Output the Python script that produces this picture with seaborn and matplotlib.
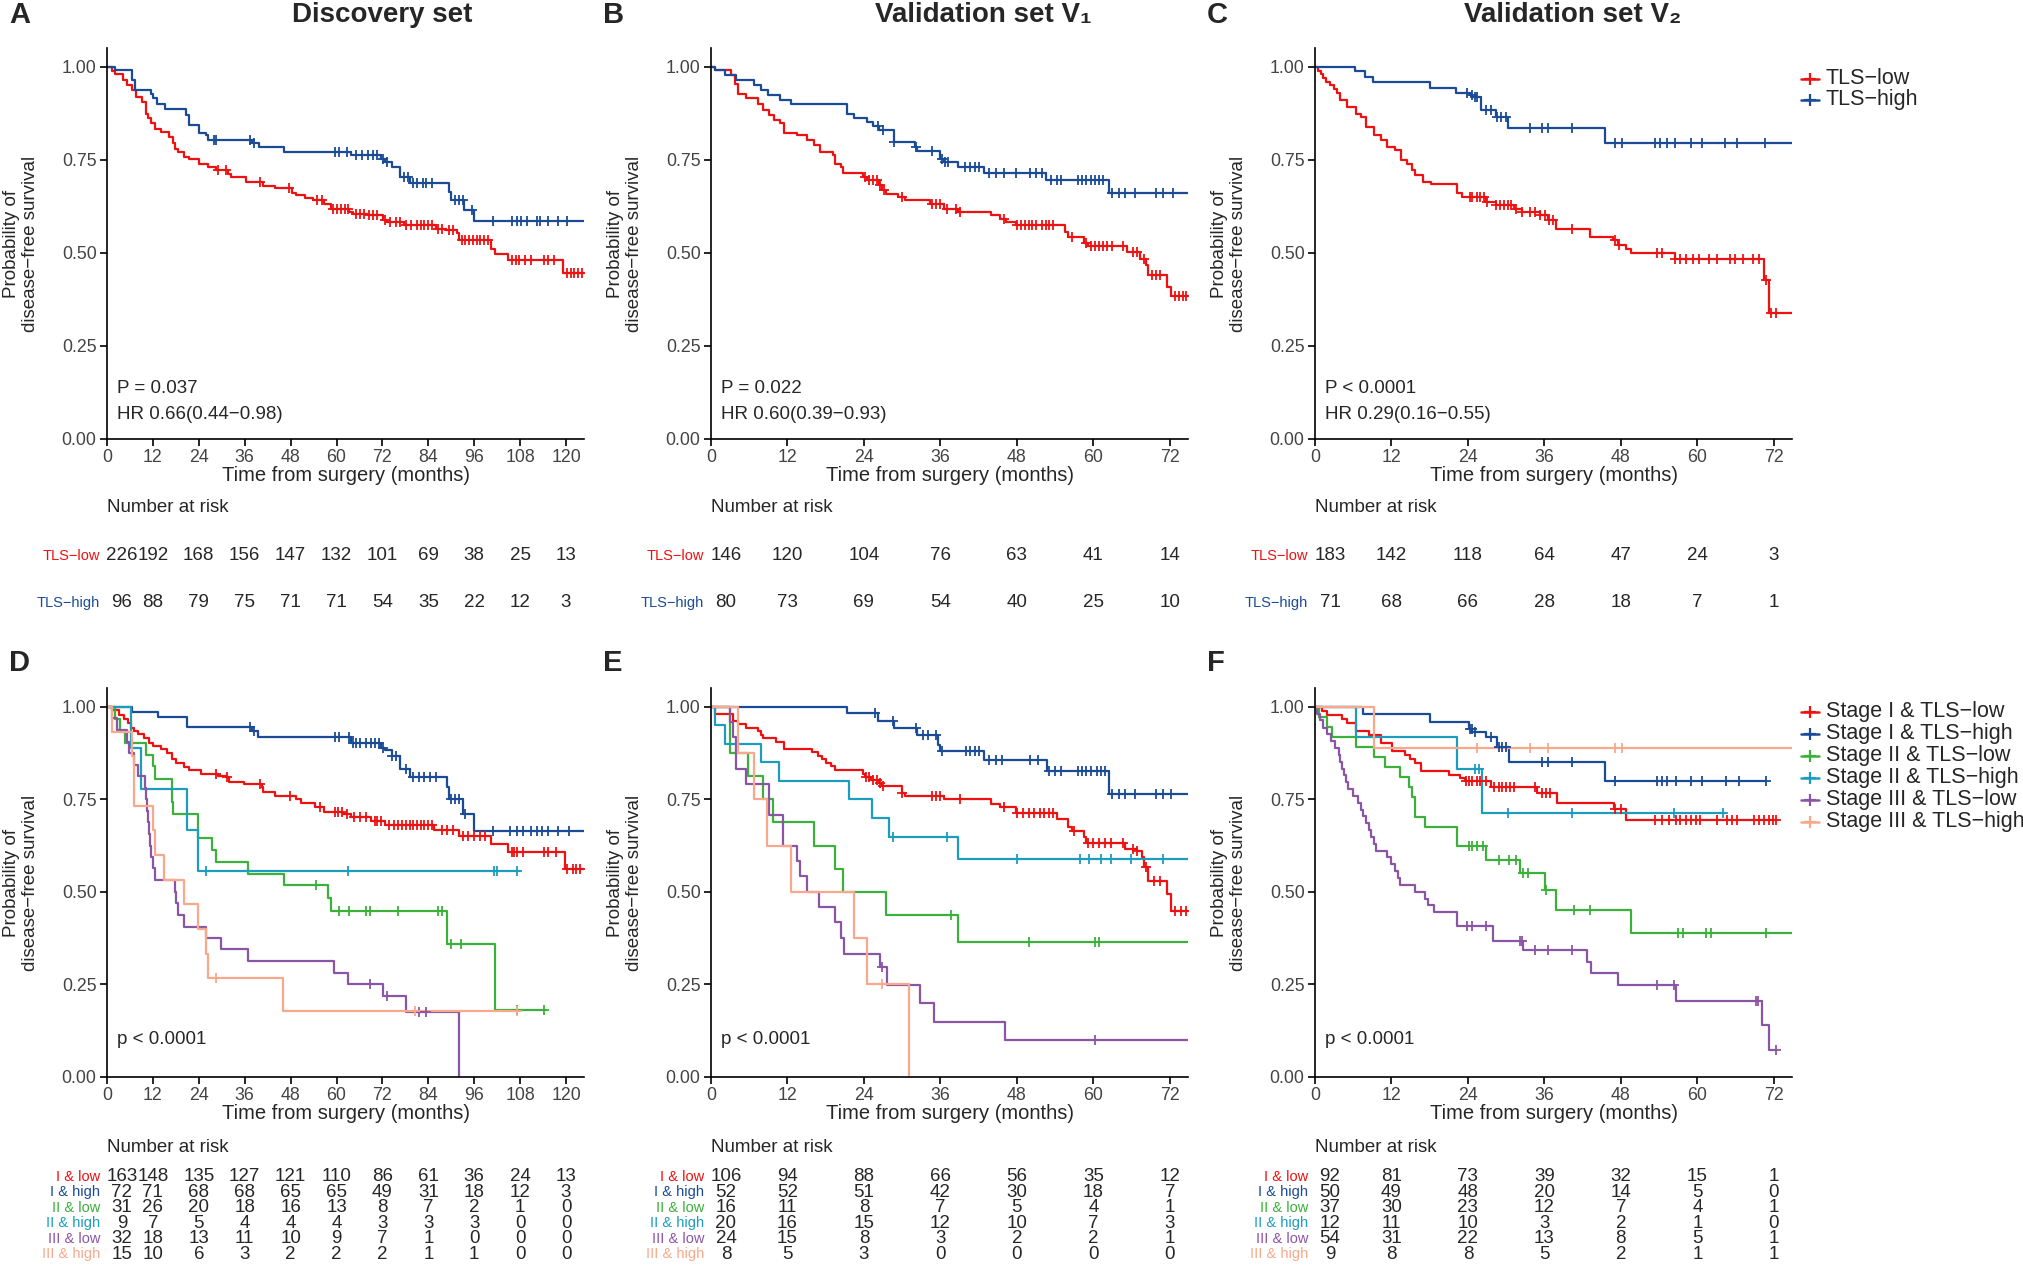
import numpy as np
import matplotlib
matplotlib.use('Agg')
import matplotlib.pyplot as plt
import seaborn as sns
from matplotlib import transforms
from matplotlib.lines import Line2D

# ---- colours
red = '#EE1111'
blue = '#1B4B96'
green = '#3BB13B'
cyan = '#1C9DBE'
purple = '#8B55A6'
salmon = '#F9A98B'

# ---- A: discovery set (time in months, survival)
a_low_steps = [(0, 1.0), (1.2, 0.99), (2.2, 0.98), (4.2, 0.965), (5.2, 0.95), (6.6, 0.937), (7.6, 0.919),
               (9.1, 0.906), (10.1, 0.874), (10.6, 0.862), (11.6, 0.848), (12.6, 0.834), (14.1, 0.825),
               (16.1, 0.812), (17.3, 0.794), (17.9, 0.78), (18.6, 0.771), (20.0, 0.758), (21.5, 0.751),
               (24.0, 0.74), (26.5, 0.731), (28.5, 0.722), (31.7, 0.713), (32.4, 0.704), (36.4, 0.69),
               (40.9, 0.679), (43.8, 0.673), (48.3, 0.662), (49.3, 0.655), (51.8, 0.648), (53.8, 0.641),
               (56.7, 0.632), (58.5, 0.619), (63.2, 0.61), (64.2, 0.605), (68.2, 0.601), (72.1, 0.587),
               (73.1, 0.583), (77.6, 0.574), (86.0, 0.565), (88.5, 0.561), (91.5, 0.552), (92.0, 0.534),
               (100.4, 0.511), (101.4, 0.498), (104.9, 0.48), (119.2, 0.446), (124.7, 0.446)]
a_low_cens = [29.0, 31.0, 39.9, 47.5, 54.8, 56.3, 59.2, 60.2, 61.2, 62.2, 62.9, 65.2, 66.2, 67.2, 68.5, 69.6,
              70.6, 72.6, 74.1, 75.6, 76.6, 78.1, 79.6, 81.1, 82.0, 83.0, 84.0, 85.0, 86.5, 87.5, 89.5, 90.5,
              92.7, 93.7, 94.6, 95.6, 96.6, 97.6, 98.6, 99.6, 105.8, 106.8, 107.8, 109.3, 110.8, 114.3, 115.3,
              116.8, 120.2, 121.2, 122.2, 123.2, 124.2]
a_high_steps = [(0, 1.0), (2.2, 0.991), (6.6, 0.964), (7.3, 0.937), (11.6, 0.926), (12.1, 0.915), (13.1, 0.901),
                (15.1, 0.888), (20.7, 0.87), (21.5, 0.843), (24.0, 0.822), (26.0, 0.816), (26.5, 0.803),
                (37.9, 0.794), (39.7, 0.785), (46.3, 0.771), (63.9, 0.762), (71.6, 0.753), (72.6, 0.744),
                (74.6, 0.731), (76.6, 0.704), (79.1, 0.688), (89.5, 0.664), (90.0, 0.643), (93.3, 0.614),
                (95.9, 0.586), (124.7, 0.586)]
a_high_cens = [28.0, 28.5, 37.4, 38.4, 59.7, 60.7, 62.7, 65.2, 66.7, 68.2, 69.6, 70.6, 72.1, 73.1, 77.6, 78.6,
               80.1, 81.1, 82.5, 83.5, 85.0, 91.0, 92.0, 93.0, 95.4, 100.9, 105.8, 107.3, 108.3, 109.8, 112.3,
               113.3, 115.3, 117.8, 120.2]

# ---- B: validation set V1
b_low_steps = [(0, 1.0), (0.7, 0.991), (3.1, 0.978), (3.7, 0.955), (4.3, 0.928), (5.5, 0.915), (7.3, 0.901),
               (8.2, 0.883), (9.1, 0.87), (9.9, 0.858), (10.8, 0.849), (11.4, 0.822), (13.5, 0.816),
               (15.0, 0.803), (16.2, 0.789), (17.1, 0.771), (19.2, 0.762), (19.5, 0.74), (20.4, 0.731),
               (20.7, 0.715), (23.9, 0.704), (24.5, 0.695), (26.3, 0.682), (26.9, 0.668), (27.5, 0.657),
               (29.3, 0.65), (30.5, 0.641), (34.4, 0.632), (36.5, 0.619), (38.8, 0.61), (43.9, 0.601),
               (45.4, 0.592), (46.3, 0.583), (47.8, 0.574), (55.5, 0.556), (56.1, 0.543), (58.5, 0.525),
               (59.1, 0.517), (65.3, 0.502), (67.4, 0.484), (68.3, 0.466), (68.6, 0.439), (71.6, 0.408),
               (72.2, 0.383), (74.9, 0.383)]
b_low_cens = [24.2, 24.8, 25.4, 26.0, 26.6, 27.2, 29.9, 34.7, 35.3, 35.9, 37.0, 38.5, 39.1, 46.0, 48.1, 48.7,
              49.3, 49.9, 50.4, 51.0, 51.9, 52.5, 53.1, 53.7, 56.7, 58.8, 59.7, 60.3, 60.9, 61.5, 62.1, 63.0,
              64.7, 66.2, 66.8, 68.0, 69.2, 69.8, 70.4, 72.8, 73.4, 74.0, 74.6]
b_high_steps = [(0, 1.0), (0.7, 0.991), (2.2, 0.978), (4.0, 0.964), (6.7, 0.951), (7.9, 0.937), (8.9, 0.924),
                (10.8, 0.912), (12.6, 0.901), (21.3, 0.874), (22.5, 0.863), (24.5, 0.851), (25.4, 0.84),
                (26.3, 0.83), (28.7, 0.798), (32.0, 0.785), (32.3, 0.773), (35.9, 0.751), (36.5, 0.744),
                (38.8, 0.731), (42.9, 0.715), (52.6, 0.695), (62.5, 0.661), (74.9, 0.661)]
b_high_cens = [26.2, 27.0, 28.7, 32.2, 34.7, 36.2, 36.7, 37.2, 39.9, 40.6, 41.5, 42.1, 43.6, 44.8, 46.0, 47.8,
               50.1, 51.0, 51.9, 53.4, 54.3, 54.9, 57.6, 58.2, 58.8, 59.7, 60.3, 60.9, 61.5, 63.0, 64.1, 65.0,
               66.5, 69.8, 71.0, 72.5]

# ---- C: validation set V2
c_low_steps = [(0, 1.0), (0.4, 0.99), (0.9, 0.98), (1.3, 0.97), (1.8, 0.96), (2.3, 0.95), (3.0, 0.94),
               (3.5, 0.93), (3.9, 0.91), (5.1, 0.892), (6.4, 0.874), (7.2, 0.865), (8.0, 0.839), (9.2, 0.816),
               (10.4, 0.803), (11.3, 0.785), (12.5, 0.776), (13.5, 0.749), (14.5, 0.74), (15.3, 0.722),
               (15.7, 0.709), (17.0, 0.691), (18.2, 0.684), (22.3, 0.661), (23.1, 0.65), (26.8, 0.637),
               (28.4, 0.628), (31.2, 0.619), (32.5, 0.61), (35.3, 0.601), (36.5, 0.587), (37.8, 0.565),
               (43.1, 0.543), (46.7, 0.534), (47.6, 0.52), (48.8, 0.511), (49.6, 0.5), (56.5, 0.484),
               (70.4, 0.426), (71.2, 0.338), (74.9, 0.338)]
c_low_cens = [24.3, 24.7, 25.4, 25.9, 26.5, 27.0, 28.4, 29.0, 29.6, 30.3, 30.8, 31.6, 32.5, 33.7, 34.5, 35.3,
              36.1, 36.8, 37.4, 40.4, 47.1, 47.7, 53.7, 54.5, 56.5, 57.3, 58.2, 59.4, 60.2, 61.8, 63.1, 65.1,
              65.9, 67.1, 68.8, 69.7, 70.8, 71.6, 72.4]
c_high_steps = [(0, 1.0), (6.2, 0.988), (7.8, 0.973), (9.1, 0.96), (18.0, 0.944), (22.1, 0.93), (24.3, 0.924),
                (24.7, 0.919), (26.1, 0.885), (28.4, 0.865), (30.3, 0.836), (45.5, 0.794), (74.9, 0.794)]
c_high_cens = [23.9, 24.6, 25.1, 25.5, 26.8, 27.6, 28.6, 29.2, 30.0, 33.8, 35.7, 36.5, 40.4, 47.1, 48.2, 53.4,
               54.2, 55.3, 56.5, 59.0, 60.8, 64.3, 66.3, 70.6]

# ---- D: discovery set by stage
d_il_steps = [(0, 1.0), (1.2, 0.99), (3.2, 0.979), (4.5, 0.967), (5.5, 0.955), (6.2, 0.943), (7.1, 0.934),
              (8.1, 0.927), (9.6, 0.916), (11.1, 0.903), (12.1, 0.894), (14.1, 0.885), (15.6, 0.876),
              (17.1, 0.858), (18.1, 0.849), (20.0, 0.837), (21.5, 0.828), (24.5, 0.818), (29.0, 0.813),
              (31.0, 0.809), (31.9, 0.797), (35.9, 0.792), (40.4, 0.782), (40.9, 0.77), (43.8, 0.759),
              (49.3, 0.75), (50.8, 0.741), (54.3, 0.728), (56.7, 0.716), (61.7, 0.71), (63.7, 0.701),
              (69.1, 0.692), (72.6, 0.68), (85.5, 0.668), (92.0, 0.651), (100.4, 0.629), (104.9, 0.607),
              (119.7, 0.562), (124.7, 0.562)]
d_il_cens = [28.5, 31.4, 39.9, 47.8, 55.8, 59.5, 60.5, 61.5, 62.7, 64.7, 66.2, 67.7, 70.1, 70.6, 71.6, 73.6,
             75.1, 76.1, 77.1, 78.1, 79.1, 80.1, 81.1, 82.0, 83.0, 84.0, 85.0, 87.5, 89.0, 90.5, 93.0, 94.4,
             95.9, 97.4, 98.9, 105.8, 106.3, 107.3, 108.8, 114.3, 115.3, 117.3, 120.2, 121.7, 122.7, 123.7]
d_ih_steps = [(0, 1.0), (6.6, 0.986), (13.3, 0.973), (21.0, 0.946), (37.9, 0.935), (39.4, 0.918),
              (63.7, 0.903), (71.6, 0.889), (72.6, 0.882), (74.6, 0.867), (76.6, 0.831), (79.1, 0.809),
              (89.0, 0.782), (89.5, 0.75), (93.0, 0.71), (95.9, 0.665), (124.7, 0.665)]
d_ih_cens = [37.4, 38.4, 59.7, 60.7, 63.2, 64.2, 65.2, 66.2, 67.7, 69.1, 70.1, 71.1, 72.1, 74.6, 75.6, 78.1,
             80.1, 81.5, 83.0, 84.5, 86.0, 90.0, 91.0, 92.0, 93.5, 100.9, 105.4, 107.3, 108.8, 110.8, 112.3,
             113.8, 115.3, 117.8, 120.7]
d_iil_steps = [(0, 1.0), (2.2, 0.968), (3.4, 0.935), (4.7, 0.903), (10.1, 0.871), (12.1, 0.839), (12.6, 0.806),
               (16.9, 0.774), (17.1, 0.742), (17.3, 0.71), (23.8, 0.645), (27.5, 0.613), (28.5, 0.581),
               (36.9, 0.549), (46.3, 0.517), (57.9, 0.484), (58.5, 0.449), (89.0, 0.359), (101.4, 0.18),
               (114.8, 0.18)]
d_iil_cens = [54.6, 60.7, 63.2, 67.7, 68.7, 76.1, 86.5, 87.5, 90.0, 92.5, 107.3, 114.3]
d_iih_steps = [(0, 1.0), (6.3, 0.889), (8.9, 0.778), (20.8, 0.667), (23.8, 0.556), (107.8, 0.556)]
d_iih_cens = [26.0, 62.9, 101.2, 101.9, 107.3]
d_iiil_steps = [(0, 1.0), (1.2, 0.969), (2.7, 0.938), (5.2, 0.906), (5.7, 0.875), (7.1, 0.844), (8.1, 0.813),
                (9.9, 0.781), (10.1, 0.75), (10.4, 0.719), (10.8, 0.688), (11.1, 0.656), (11.3, 0.625),
                (11.6, 0.594), (12.0, 0.563), (12.6, 0.531), (17.7, 0.5), (18.1, 0.469), (18.5, 0.438),
                (20.0, 0.406), (26.0, 0.375), (29.9, 0.344), (36.9, 0.313), (59.3, 0.281), (63.0, 0.25),
                (72.2, 0.219), (78.1, 0.174), (91.9, 0.0)]
d_iiil_cens = [68.7, 73.1, 81.5, 83.5]
d_iiih_steps = [(0, 1.0), (1.2, 0.933), (6.6, 0.867), (7.1, 0.733), (11.9, 0.667), (12.6, 0.6), (14.9, 0.533),
                (20.2, 0.467), (23.7, 0.4), (26.0, 0.333), (26.5, 0.267), (46.1, 0.178), (107.8, 0.178)]
d_iiih_cens = [28.5, 80.6, 107.3]

# ---- E: validation set V1 by stage
e_il_steps = [(0, 1.0), (0.7, 0.981), (3.4, 0.962), (4.3, 0.953), (5.5, 0.943), (7.3, 0.934), (7.9, 0.924),
              (8.2, 0.915), (10.2, 0.906), (11.4, 0.887), (15.9, 0.877), (16.8, 0.868), (17.4, 0.858),
              (18.0, 0.849), (18.9, 0.84), (19.5, 0.83), (23.9, 0.818), (24.2, 0.809), (25.1, 0.802),
              (26.3, 0.795), (26.8, 0.786), (29.9, 0.768), (30.5, 0.759), (36.5, 0.75), (43.9, 0.737),
              (45.4, 0.728), (47.8, 0.714), (54.3, 0.696), (56.1, 0.674), (56.7, 0.665), (58.5, 0.647),
              (58.8, 0.633), (65.0, 0.615), (66.8, 0.611), (67.7, 0.593), (68.0, 0.566), (68.6, 0.53),
              (71.6, 0.494), (72.2, 0.449), (74.9, 0.449)]
e_il_cens = [24.4, 24.8, 25.4, 26.0, 26.6, 27.0, 29.9, 34.7, 35.3, 35.9, 39.1, 46.0, 48.1, 49.0, 49.9, 50.7,
             51.6, 52.2, 53.1, 53.7, 57.0, 59.1, 60.0, 60.9, 61.8, 62.7, 64.7, 66.2, 66.8, 68.3, 69.5, 70.4,
             72.8, 73.7, 74.6]
e_ih_steps = [(0, 1.0), (21.3, 0.982), (26.2, 0.961), (28.7, 0.943), (32.4, 0.924), (35.7, 0.898), (36.0, 0.88),
              (42.9, 0.855), (52.8, 0.827), (62.5, 0.764), (74.9, 0.764)]
e_ih_cens = [25.7, 28.6, 32.2, 33.2, 34.1, 35.3, 36.3, 40.0, 40.6, 41.5, 42.1, 43.6, 44.8, 45.7, 50.1, 51.3,
             53.1, 54.0, 54.9, 57.6, 58.2, 58.8, 59.7, 60.6, 61.2, 61.8, 63.0, 64.1, 65.0, 66.5, 69.8, 71.0, 72.2]
e_iil_steps = [(0, 1.0), (3.0, 0.875), (5.8, 0.8125), (8.2, 0.75), (9.8, 0.6875), (16.1, 0.625), (19.5, 0.5625),
               (20.7, 0.5), (27.5, 0.4375), (38.7, 0.364), (74.9, 0.364)]
e_iil_cens = [37.6, 49.9, 60.3, 60.9]
e_iih_steps = [(0, 1.0), (0.6, 0.95), (2.2, 0.9), (7.9, 0.85), (10.7, 0.8), (21.6, 0.75), (25.3, 0.7),
               (27.9, 0.647), (38.8, 0.588), (74.9, 0.588)]
e_iih_cens = [28.6, 37.0, 48.1, 57.9, 59.4, 61.2, 62.7, 65.9, 71.0]
e_iiil_steps = [(0, 1.0), (3.0, 0.958), (3.4, 0.917), (4.0, 0.833), (5.5, 0.792), (9.1, 0.708), (11.3, 0.625),
                (13.5, 0.583), (13.9, 0.542), (15.0, 0.5), (16.9, 0.458), (19.5, 0.417), (20.4, 0.375),
                (20.8, 0.333), (26.6, 0.296), (27.6, 0.247), (32.8, 0.198), (35.0, 0.148), (46.2, 0.099),
                (74.9, 0.099)]
e_iiil_cens = [26.8, 60.3]
e_iiih_steps = [(0, 1.0), (4.2, 0.875), (6.8, 0.75), (8.8, 0.625), (12.5, 0.5), (22.5, 0.375), (24.5, 0.25),
                (31.1, 0.0)]
e_iiih_cens = [26.8]

# ---- F: validation set V2 by stage
f_il_steps = [(0, 1.0), (1.1, 0.989), (1.9, 0.978), (4.3, 0.967), (5.1, 0.957), (6.4, 0.935), (8.4, 0.924),
              (10.4, 0.902), (12.1, 0.88), (14.1, 0.869), (14.9, 0.858), (15.7, 0.848), (16.6, 0.826),
              (21.0, 0.815), (22.7, 0.807), (23.5, 0.8), (27.6, 0.782), (34.9, 0.768), (38.0, 0.74),
              (47.0, 0.723), (48.8, 0.695), (72.4, 0.695)]
f_il_cens = [23.7, 24.1, 24.7, 25.4, 25.9, 26.8, 28.1, 28.8, 29.4, 30.0, 30.6, 31.2, 34.5, 35.7, 36.3, 36.9,
             47.1, 48.0, 53.4, 54.5, 55.5, 56.7, 57.3, 58.2, 59.0, 59.8, 60.4, 63.1, 64.7, 65.5, 66.3, 68.9,
             69.7, 70.4, 71.2, 71.9, 72.4]
f_ih_steps = [(0, 1.0), (7.6, 0.98), (18.0, 0.96), (24.1, 0.94), (24.7, 0.933), (26.8, 0.918), (28.6, 0.89),
              (30.4, 0.852), (45.5, 0.8), (70.8, 0.8)]
f_ih_cens = [24.3, 24.6, 25.1, 27.6, 28.8, 29.4, 30.0, 35.7, 36.5, 40.4, 47.1, 53.7, 54.5, 55.3, 56.7, 59.0,
             60.8, 64.5, 66.5, 70.8]
f_iil_steps = [(0, 1.0), (0.7, 0.973), (1.9, 0.946), (2.7, 0.919), (6.4, 0.892), (9.2, 0.865), (11.0, 0.838),
               (13.3, 0.811), (14.8, 0.784), (15.3, 0.757), (15.7, 0.703), (17.2, 0.676), (22.3, 0.623),
               (26.8, 0.587), (32.2, 0.55), (36.1, 0.506), (37.9, 0.451), (49.6, 0.388), (74.9, 0.388)]
f_iil_cens = [24.1, 24.7, 25.5, 26.3, 28.8, 30.4, 31.6, 32.6, 33.5, 36.3, 40.6, 43.1, 56.9, 57.8, 61.3, 62.1,
              70.8]
f_iih_steps = [(0, 1.0), (6.4, 0.917), (22.3, 0.833), (26.2, 0.714), (64.3, 0.714)]
f_iih_cens = [25.1, 25.7, 30.3, 40.4, 56.4, 64.1]
f_iiil_steps = [(0, 1.0), (0.3, 0.981), (0.8, 0.963), (1.3, 0.944), (1.9, 0.926), (2.5, 0.907), (3.1, 0.889),
                (3.7, 0.87), (4.0, 0.852), (4.2, 0.833), (4.5, 0.815), (4.8, 0.796), (5.2, 0.778), (6.0, 0.759),
                (6.8, 0.741), (7.2, 0.722), (7.6, 0.704), (8.0, 0.685), (8.4, 0.667), (8.8, 0.648), (9.2, 0.63),
                (9.5, 0.611), (11.3, 0.593), (11.9, 0.574), (12.6, 0.556), (13.0, 0.537), (13.3, 0.519),
                (15.7, 0.5), (17.2, 0.481), (17.7, 0.463), (18.6, 0.444), (22.3, 0.407), (28.0, 0.366),
                (32.7, 0.342), (42.7, 0.31), (43.3, 0.279), (47.6, 0.247), (56.7, 0.205), (70.2, 0.139),
                (71.2, 0.072), (72.4, 0.072)]
f_iiil_cens = [23.9, 24.7, 26.8, 32.1, 32.5, 34.5, 36.5, 40.4, 53.7, 56.4, 69.2, 69.6, 72.4]
f_iiih_steps = [(0, 1.0), (9.2, 0.889), (74.9, 0.889)]
f_iiih_cens = [25.5, 33.8, 36.5, 47.1, 48.2]

# ---- number at risk
times_a = [0, 12, 24, 36, 48, 60, 72, 84, 96, 108, 120]
times_b = [0, 12, 24, 36, 48, 60, 72]
a_low_risk = [226, 192, 168, 156, 147, 132, 101, 69, 38, 25, 13]
a_high_risk = [96, 88, 79, 75, 71, 71, 54, 35, 22, 12, 3]
b_low_risk = [146, 120, 104, 76, 63, 41, 14]
b_high_risk = [80, 73, 69, 54, 40, 25, 10]
c_low_risk = [183, 142, 118, 64, 47, 24, 3]
c_high_risk = [71, 68, 66, 28, 18, 7, 1]
d_risk = [[163, 148, 135, 127, 121, 110, 86, 61, 36, 24, 13],
          [72, 71, 68, 68, 65, 65, 49, 31, 18, 12, 3],
          [31, 26, 20, 18, 16, 13, 8, 7, 2, 1, 0],
          [9, 7, 5, 4, 4, 4, 3, 3, 3, 0, 0],
          [32, 18, 13, 11, 10, 9, 7, 1, 0, 0, 0],
          [15, 10, 6, 3, 2, 2, 2, 1, 1, 0, 0]]
e_risk = [[106, 94, 88, 66, 56, 35, 12],
          [52, 52, 51, 42, 30, 18, 7],
          [16, 11, 8, 7, 5, 4, 1],
          [20, 16, 15, 12, 10, 7, 3],
          [24, 15, 8, 3, 2, 2, 1],
          [8, 5, 3, 0, 0, 0, 0]]
f_risk = [[92, 81, 73, 39, 32, 15, 1],
          [50, 49, 48, 20, 14, 5, 0],
          [37, 30, 23, 12, 7, 4, 1],
          [12, 11, 10, 3, 2, 1, 0],
          [54, 31, 22, 13, 8, 5, 1],
          [9, 8, 8, 5, 2, 1, 1]]

two_labels = ['TLS\u2212low', 'TLS\u2212high']
two_colors = [red, blue]
six_labels = ['Stage I & TLS\u2212low', 'Stage I & TLS\u2212high', 'Stage II & TLS\u2212low',
              'Stage II & TLS\u2212high', 'Stage III & TLS\u2212low', 'Stage III & TLS\u2212high']
six_short = ['I & low', 'I & high', 'II & low', 'II & high', 'III & low', 'III & high']
six_colors = [red, blue, green, cyan, purple, salmon]

sns.set_theme(style='ticks')
plt.rcParams['font.family'] = ['Liberation Sans', 'DejaVu Sans']

W, H = 2023, 1268
fig = plt.figure(figsize=(W / 100, H / 100), dpi=100)


def fx(px):
    return px / W


def fy(py):
    return 1 - py / H


AX_W = 477


def make_ax(left, top, bottom, xmax, tmax):
    ax = fig.add_axes([fx(left), fy(bottom), AX_W / W, (bottom - top) / H])
    ax.set_xlim(0, xmax)
    ax.set_ylim(0, 1.05)
    ax.set_xticks(range(0, tmax + 1, 12))
    ax.set_yticks([0, 0.25, 0.5, 0.75, 1.0])
    ax.set_yticklabels(['0.00', '0.25', '0.50', '0.75', '1.00'])
    sns.despine(ax=ax)
    for sp in ['left', 'bottom']:
        ax.spines[sp].set_linewidth(1.2)
        ax.spines[sp].set_color('black')
    ax.tick_params(length=5, width=1.2, labelsize=12.8, pad=2.5, labelcolor='#444444', color='black')
    ax.grid(False)
    # axis titles drawn as figure text
    fig.text(fx(left - 86), fy((top + bottom) / 2), 'Probability of\ndisease\u2212free survival',
             rotation=90, ha='center', va='center', fontsize=13.5, linespacing=1.15)
    fig.text(fx(left + AX_W / 2), fy(bottom + 37), 'Time from surgery (months)',
             ha='center', va='center', fontsize=14.5)
    return ax


def draw_curve(ax, steps, cens, color):
    t = [p[0] for p in steps]
    s = [p[1] for p in steps]
    sns.lineplot(x=t, y=s, drawstyle='steps-post', estimator=None, sort=False, color=color,
                 linewidth=1.6, ax=ax, legend=False)
    idx = np.searchsorted(t, cens, side='right') - 1
    sns.scatterplot(x=cens, y=np.array(s)[idx], marker='+', s=50, color=color, linewidth=1.3,
                    ax=ax, legend=False, zorder=3)


def risk_table(ax, left, times, rows, labels, colors, y_title, y_rows):
    trans = transforms.blended_transform_factory(ax.transData, fig.transFigure)
    first = transforms.offset_copy(trans, fig=fig, x=15, units='dots')
    fig.text(fx(left), fy(y_title), 'Number at risk', ha='left', va='center', fontsize=13.5)
    for row, lab, col, y in zip(rows, labels, colors, y_rows):
        fig.text(fx(left - 7), fy(y), lab, ha='right', va='center', color=col, fontsize=10.5)
        for t, n in zip(times, row):
            fig.text(t, fy(y), str(n), transform=first if t == 0 else trans,
                     ha='center', va='center', fontsize=13.5)


def annotate(ax, lines):
    tr = transforms.blended_transform_factory(ax.transAxes, ax.transData)
    for txt, yv in lines:
        ax.text(0.02, yv, txt, transform=tr, ha='left', va='center', fontsize=13.5)


def legend(labels, colors, rows_y):
    for lab, col, y in zip(labels, colors, rows_y):
        fig.add_artist(Line2D([fx(1801), fx(1819)], [fy(y), fy(y)], color=col, linewidth=1.8,
                              transform=fig.transFigure))
        fig.add_artist(Line2D([fx(1810)], [fy(y)], color=col, marker='+', markersize=9,
                              markeredgewidth=1.6, transform=fig.transFigure))
        fig.text(fx(1826), fy(y), lab, ha='left', va='center', fontsize=15.5)


lefts = [107, 711, 1315]
top_y = (48.3, 438.7)
bot_y = (688.3, 1076.7)

# ---- top row
axA = make_ax(lefts[0], *top_y, 124.7, 120)
draw_curve(axA, a_low_steps, a_low_cens, red)
draw_curve(axA, a_high_steps, a_high_cens, blue)
annotate(axA, [('P = 0.037', 0.135), ('HR 0.66(0.44\u22120.98)', 0.066)])
risk_table(axA, lefts[0], times_a, [a_low_risk, a_high_risk], two_labels, two_colors, 508, [556, 602.5])

axB = make_ax(lefts[1], *top_y, 74.86, 72)
draw_curve(axB, b_low_steps, b_low_cens, red)
draw_curve(axB, b_high_steps, b_high_cens, blue)
annotate(axB, [('P = 0.022', 0.135), ('HR 0.60(0.39\u22120.93)', 0.066)])
risk_table(axB, lefts[1], times_b, [b_low_risk, b_high_risk], two_labels, two_colors, 508, [556, 602.5])

axC = make_ax(lefts[2], *top_y, 74.86, 72)
draw_curve(axC, c_low_steps, c_low_cens, red)
draw_curve(axC, c_high_steps, c_high_cens, blue)
annotate(axC, [('P < 0.0001', 0.135), ('HR 0.29(0.16\u22120.55)', 0.066)])
risk_table(axC, lefts[2], times_b, [c_low_risk, c_high_risk], two_labels, two_colors, 508, [556, 602.5])

# ---- bottom row
six_rows_y = [1176.7, 1192.2, 1207.6, 1223.1, 1238.6, 1254.1]

axD = make_ax(lefts[0], *bot_y, 124.7, 120)
for st, ce, col in zip([d_il_steps, d_ih_steps, d_iil_steps, d_iih_steps, d_iiil_steps, d_iiih_steps],
                       [d_il_cens, d_ih_cens, d_iil_cens, d_iih_cens, d_iiil_cens, d_iiih_cens], six_colors):
    draw_curve(axD, st, ce, col)
annotate(axD, [('p < 0.0001', 0.10)])
risk_table(axD, lefts[0], times_a, d_risk, six_short, six_colors, 1147, six_rows_y)

axE = make_ax(lefts[1], *bot_y, 74.86, 72)
for st, ce, col in zip([e_il_steps, e_ih_steps, e_iil_steps, e_iih_steps, e_iiil_steps, e_iiih_steps],
                       [e_il_cens, e_ih_cens, e_iil_cens, e_iih_cens, e_iiil_cens, e_iiih_cens], six_colors):
    draw_curve(axE, st, ce, col)
annotate(axE, [('p < 0.0001', 0.10)])
risk_table(axE, lefts[1], times_b, e_risk, six_short, six_colors, 1147, six_rows_y)

axF = make_ax(lefts[2], *bot_y, 74.86, 72)
for st, ce, col in zip([f_il_steps, f_ih_steps, f_iil_steps, f_iih_steps, f_iiil_steps, f_iiih_steps],
                       [f_il_cens, f_ih_cens, f_iil_cens, f_iih_cens, f_iiil_cens, f_iiih_cens], six_colors):
    draw_curve(axF, st, ce, col)
annotate(axF, [('p < 0.0001', 0.10)])
risk_table(axF, lefts[2], times_b, f_risk, six_short, six_colors, 1147, six_rows_y)

# ---- legends
legend(two_labels, two_colors, [79, 100])
legend(six_labels, six_colors, [712, 734, 756, 778, 800, 822])

# ---- titles and panel letters
for x, txt in zip([382, 983, 1573], ['Discovery set', 'Validation set V\u2081', 'Validation set V\u2082']):
    fig.text(fx(x), fy(15), txt, ha='center', va='center', fontsize=20, fontweight='bold')
for x, y, txt in [(9, 15, 'A'), (603, 15, 'B'), (1207, 15, 'C'),
                  (9, 663, 'D'), (603, 663, 'E'), (1207, 663, 'F')]:
    fig.text(fx(x), fy(y), txt, ha='left', va='center', fontsize=21, fontweight='bold')

fig.savefig('out.png', dpi=100)
